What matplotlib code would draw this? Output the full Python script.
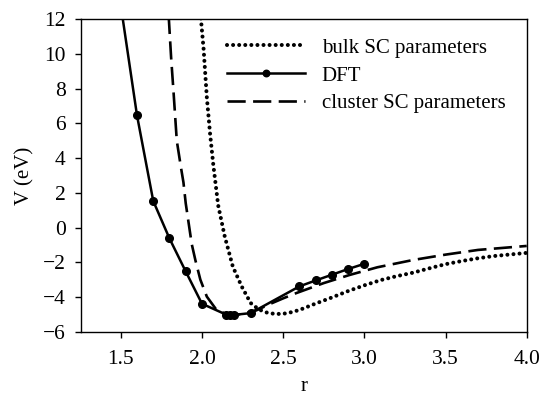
import matplotlib
matplotlib.use("Agg")
import matplotlib.pyplot as plt

plt.rcParams['font.family'] = ['Liberation Serif', 'DejaVu Serif']

# DFT data
dft_r = [1.5, 1.6, 1.7, 1.8, 1.9, 2.0, 2.15, 2.175, 2.2, 2.3, 2.6, 2.7, 2.8, 2.9, 3.0]
dft_v = [12.8, 6.46, 1.53, -0.63, -2.53, -4.39, -5.02, -5.03, -5.03, -4.93, -3.39, -3.05, -2.72, -2.39, -2.09]

# bulk SC parameters (dotted)
bulk_r = [1.99, 2.01, 2.03, 2.05, 2.07, 2.10, 2.14, 2.19, 2.245, 2.30, 2.35, 2.40, 2.45, 2.50,
          2.55, 2.60, 2.70, 2.80, 2.90, 3.00, 3.10, 3.20, 3.30, 3.40, 3.50, 3.60, 3.70, 3.80,
          3.90, 4.00]
bulk_v = [12.4, 10.3, 7.5, 5.4, 3.6, 1.27, -0.5, -2.25, -3.4, -4.35, -4.72, -4.9, -4.98, -4.97,
          -4.88, -4.75, -4.38, -4.03, -3.66, -3.33, -3.03, -2.8, -2.6, -2.35, -2.11, -1.93,
          -1.77, -1.64, -1.55, -1.46]

# cluster SC parameters (dashed)
clus_r = [1.795, 1.81, 1.825, 1.845, 1.87, 1.886, 1.90, 1.937, 1.96, 1.99, 2.03, 2.09, 2.15,
          2.20, 2.25, 2.34, 2.42, 2.50, 2.58, 2.75, 2.91, 3.08, 3.30, 3.50, 3.70, 4.00]
clus_v = [12.2, 9.8, 7.8, 5.0, 3.5, 2.6, 1.4, -0.95, -1.9, -3.0, -3.98, -4.75, -4.98,
          -5.03, -4.98, -4.75, -4.4, -4.08, -3.78, -3.2, -2.73, -2.29, -1.87, -1.56, -1.29, -1.06]

xticks = [1.5, 2.0, 2.5, 3.0, 3.5, 4.0]
yticks = [-6, -4, -2, 0, 2, 4, 6, 8, 10, 12]

fig = plt.figure(figsize=(5.41, 4.0), dpi=100)
ax = fig.add_axes([0.1497, 0.1708, 0.8239, 0.781])

ax.plot(bulk_r, bulk_v, color='black', lw=2.9, linestyle=(0, (0.01, 1.5)),
        dash_capstyle='round', label='bulk SC parameters')
ax.plot(dft_r, dft_v, color='black', lw=1.8, marker='o', markersize=5.5,
        label='DFT')
ax.plot(clus_r, clus_v, color='black', lw=1.9, linestyle=(0, (6.9, 2.8)),
        label='cluster SC parameters')

ax.set_xlim(1.255, 4.0)
ax.set_ylim(-6, 12)
ax.set_xticks(xticks)
ax.set_xticklabels([f"{t:.1f}" for t in xticks])
ax.set_yticks(yticks)
ax.tick_params(direction='out', length=4, width=1, labelsize=15.5)
ax.tick_params(axis='x', pad=9)
ax.tick_params(axis='y', pad=7)
ax.set_xlabel('r', fontsize=15, labelpad=6)
ax.set_ylabel('V (eV)', fontsize=15, labelpad=6)
for s in ax.spines.values():
    s.set_linewidth(1.0)

ax.legend(loc='upper left', frameon=False, fontsize=15, handlelength=3.75,
          handletextpad=0.8, numpoints=1, borderaxespad=0, borderpad=0,
          labelspacing=0.4, bbox_to_anchor=(0.3276, 0.94), markerscale=0.85)

fig.savefig('out.png', dpi=100)
